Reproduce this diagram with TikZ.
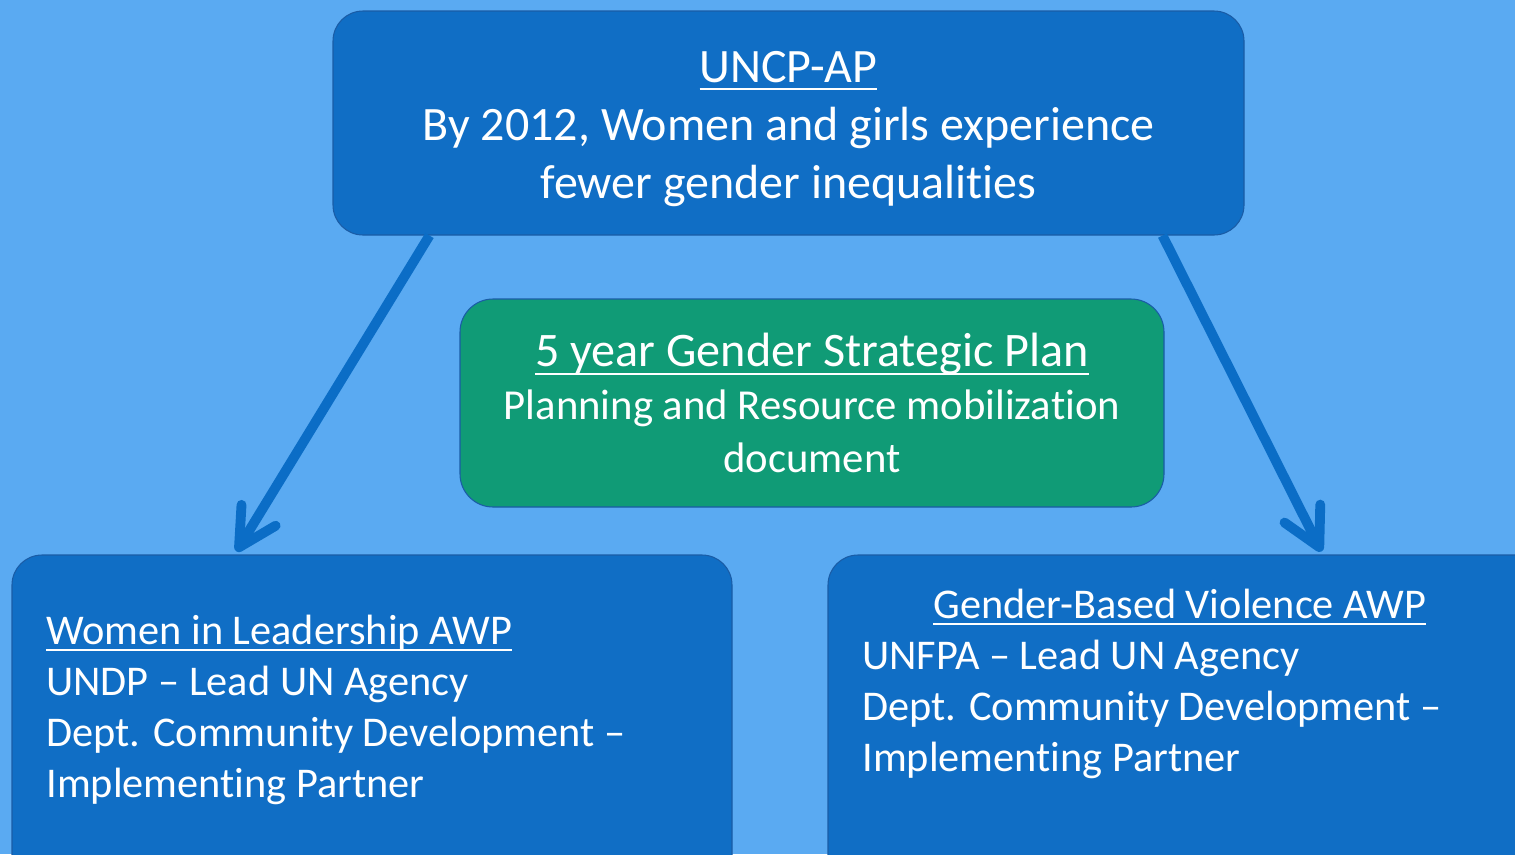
\documentclass[tikz,border=0pt]{standalone}
\usepackage{fontspec}
\setmainfont{Carlito}[Ligatures={NoCommon}]
\usetikzlibrary{arrows.meta,calc}
\definecolor{skyblue}{HTML}{5AAAF2}
\definecolor{boxblue}{HTML}{106EC5}
\definecolor{edgeblue}{HTML}{1A5CA6}
\definecolor{arrowblue}{HTML}{0B6DC6}
\definecolor{plangreen}{HTML}{109B76}
\newsavebox{\ulbox}
\newcommand{\titleul}[1]{\sbox{\ulbox}{#1}\rlap{\rule[-0.16em]{\wd\ulbox}{1.1pt}}\usebox{\ulbox}}

\begin{document}
\begin{tikzpicture}[
    box/.style={draw=edgeblue, line width=0.6pt, fill=boxblue, rounded corners=0.6cm, text=white, align=center},
    txt/.style={text=white, align=left, inner sep=0pt, font=\fontsize{24.1}{29}\selectfont},
    arr/.style={arrowblue, line width=5.6pt, -{Straight Barb[length=0.75cm, width=0.8cm, round]}}
  ]
  \fill[skyblue] (0,0) rectangle (30.3,-17.08);
  \useasboundingbox (0,0) rectangle (30.3,-17.08);

  \node[box, minimum width=18.22cm, minimum height=4.48cm, font=\fontsize{27.3}{33}\selectfont] (uncp) at (15.77,-2.46)
    {\rule{0pt}{0.9em}\titleul{UNCP-AP}\\By 2012, Women and girls experience\\fewer gender inequalities};
  \node[box, fill=plangreen, minimum width=14.08cm, minimum height=4.16cm, rounded corners=0.66cm, font=\fontsize{24.3}{30}\selectfont] (plan) at (16.24,-8.06)
    {{\fontsize{27.4}{30}\selectfont\titleul{5 year Gender Strategic Plan}}\\Planning and Resource mobilization\\document};

  \node[box, minimum width=14.4cm, minimum height=6.6cm] (wil) at (7.44,-14.4) {};
  \node[box, minimum width=14.34cm, minimum height=6.6cm] (gbv) at (23.73,-14.4) {};

  \node[txt, anchor=west] (wiltext) at (0.92,-14.2)
    {\titleul{Women in Leadership AWP}\\UNDP -- Lead UN Agency\\Dept. Community Development --\\Implementing Partner};
  \node[txt, anchor=west] (gbvtext) at (17.24,-13.68)
    {\hspace*{1.42cm}\titleul{Gender-Based Violence AWP}\\UNFPA -- Lead UN Agency\\Dept. Community Development --\\Implementing Partner};

  \draw[arr] ($(uncp.south west)+(1.94,0)$) -- ($(wil.north west)+(4.5,0.06)$);
  \draw[arr] ($(uncp.south west)+(16.6,0)$) -- ($(gbv.north west)+(9.88,0.06)$);
\end{tikzpicture}
\end{document}
